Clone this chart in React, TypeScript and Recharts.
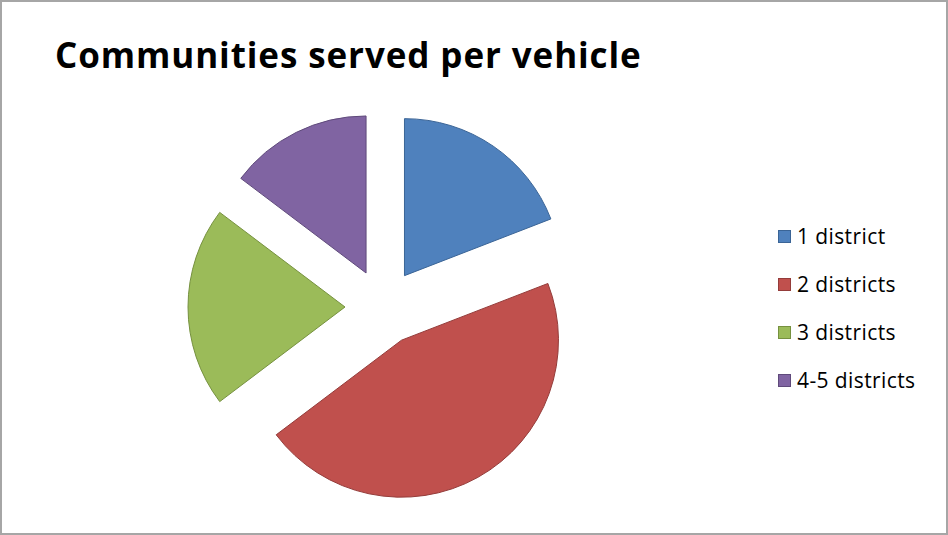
import { Cell, Pie, PieChart } from 'recharts'

const categories = ['1 district', '2 districts', '3 districts', '4-5 districts']
const counts = [13, 31, 14, 10]

const fills = ['#4f81bd', '#c0504d', '#9bbb59', '#8064a2']
const strokes = ['#3a6496', '#943c3a', '#76913f', '#5f4a7b']

const data = categories.map((name, i) => ({ name, value: counts[i] }))

const CX = 378
const CY = 302
const RADIUS = 157
const EXPLODE = 38

// offset each slice's centre outward along its mid angle (clockwise from 12 o'clock)
const total = counts.reduce((a, b) => a + b, 0)
const offsets = counts.map((v, i) => {
  const before = counts.slice(0, i).reduce((a, b) => a + b, 0)
  const mid = ((before + v / 2) / total) * Math.PI * 2
  return { dx: Math.sin(mid) * EXPLODE, dy: -Math.cos(mid) * EXPLODE }
})

export default function App() {
  return (
    <div
      style={{
        position: 'relative',
        width: 948,
        height: 535,
        boxSizing: 'border-box',
        border: '2px solid #a6a6a6',
        background: '#fff',
        fontFamily: '"Open Sans", sans-serif',
      }}
    >
      <style>{'body { margin: 0; }'}</style>

      <div
        style={{
          position: 'absolute',
          left: 53,
          top: 29,
          fontSize: 35,
          fontWeight: 700,
          letterSpacing: 0.9,
          color: '#000',
          whiteSpace: 'nowrap',
        }}
      >
        Communities served per vehicle
      </div>

      <div style={{ position: 'absolute', left: -2, top: -2 }}>
        <PieChart width={948} height={535}>
          {offsets.map((o, idx) => (
            <Pie
              key={idx}
              data={data}
              dataKey="value"
              nameKey="name"
              cx={CX + o.dx}
              cy={CY + o.dy}
              outerRadius={RADIUS}
              startAngle={90}
              endAngle={-270}
              isAnimationActive={false}
              legendType="none"
            >
              {data.map((_, i) => (
                <Cell
                  key={i}
                  fill={i === idx ? fills[i] : 'transparent'}
                  stroke={i === idx ? strokes[i] : 'none'}
                  strokeWidth={1}
                />
              ))}
            </Pie>
          ))}
        </PieChart>
      </div>

      {categories.map((name, i) => (
        <div
          key={name}
          style={{
            position: 'absolute',
            left: 776,
            top: 220 + i * 48,
            display: 'flex',
            alignItems: 'center',
            fontSize: 21,
            letterSpacing: 0.4,
            color: '#000',
            whiteSpace: 'nowrap',
          }}
        >
          <span
            style={{
              display: 'inline-block',
              width: 11,
              height: 11,
              background: fills[i],
              border: `1px solid ${strokes[i]}`,
              marginRight: 6,
            }}
          />
          {name}
        </div>
      ))}
    </div>
  )
}
